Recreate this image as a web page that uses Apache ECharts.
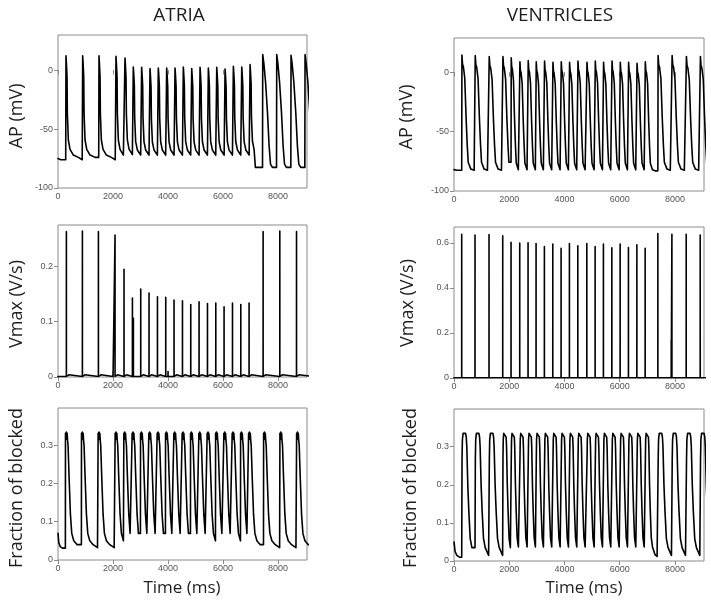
<!DOCTYPE html>
<html><head><meta charset="utf-8"><title>Atria / Ventricles</title>
<script src="https://cdn.jsdelivr.net/npm/echarts@6.0.0/dist/echarts.min.js"></script>
<style>html,body{margin:0;padding:0;background:#fff;}#chart{width:711px;height:602px;}</style>
</head><body><div id="chart"></div>
<script>
// ================= DATA =================
const xTickLabels = [0, 2000, 4000, 6000, 8000];
const apTicks = [-100, -50, 0];
const atriaVmaxTicks = [0, 0.1, 0.2];
const ventVmaxTicks = [0, 0.2, 0.4, 0.6];
const fracTicks = [0, 0.1, 0.2, 0.3];

// ---------- ATRIA : action potential (mV) ----------
const atriaApStart = [[0, -75], [100, -76]];
const atriaApBeats = [280, 887, 1480, 2098, 2425, 2727, 3030, 3334, 3636, 3940, 4244, 4545, 4850, 5153, 5455, 5760, 6062, 6364, 6669, 6971, 7433, 7942, 8462, 8971];
const atriaApPeaks = [12.4, 12.4, 12.4, 11.9, 10.5, 2.8, 2.5, 1.4, 2.0, 2.0, 2.0, 2.8, 1.4, 2.5, 2.0, 2.5, 1.1, 3.4, 2.8, 4.8, 13.3, 13.3, 12.7, 13.3];
const atriaApRests = [-76, -76, -76, -76, -75.5, -75.5, -75.5, -75.5, -75.5, -75.5, -75.5, -75.5, -75.5, -75.5, -75.5, -75.5, -75.5, -75.5, -75.5, -75.5, -82.5, -82.5, -82.5, -82.5];
const atriaApKind = ['spike', 'spike', 'spike', 'spike', 'spike', 'spike', 'spike', 'spike', 'spike', 'spike', 'spike', 'spike', 'spike', 'spike', 'spike', 'spike', 'spike', 'spike', 'spike', 'spike', 'broad', 'broad', 'broad', 'broad'];
const atriaApSteps = [[7170, -82.5]];
// waveform templates: [ms after upstroke, fraction of rest->peak]
const atriaSpikeShape = [[0, 0], [10, 1], [25, 0.93], [48, 0.8], [60, 0.45], [96, 0.19], [157, 0.1], [278, 0.045], [460, 0.023], [600, 0]];
const atriaBroadShape = [[0, 0], [8, 1], [50, 0.92], [110, 0.76], [180, 0.49], [240, 0.19], [290, 0.03], [360, 0]];

// ---------- ATRIA : Vmax (V/s) ----------
const atriaVmaxBeats = [305, 887, 1469, 2073, 2400, 2705, 3007, 3309, 3615, 3916, 4218, 4524, 4825, 5127, 5433, 5735, 6036, 6342, 6644, 6945, 7455, 8062, 8669];
const atriaVmax = [0.263, 0.264, 0.263, 0.257, 0.195, 0.143, 0.159, 0.152, 0.145, 0.144, 0.139, 0.138, 0.131, 0.136, 0.133, 0.134, 0.127, 0.134, 0.131, 0.134, 0.263, 0.264, 0.263];
const atriaVmaxExtra = [[2000, 0.01], [2740, 0.106], [4000, 0.01]];
const atriaVmaxBump = [90, 0.004];

// ---------- ATRIA : fraction of blocked ----------
const atriaFracStart = [[0, 0.07], [30, 0.045], [80, 0.035], [160, 0.031]];
const atriaFracBeats = [268, 850, 1455, 2073, 2389, 2691, 2996, 3298, 3600, 3905, 4207, 4509, 4814, 5116, 5418, 5724, 6025, 6327, 6633, 6924, 7469, 8062, 8669];
const atriaFracPeak = [0.334, 0.334, 0.334, 0.334, 0.334, 0.334, 0.334, 0.334, 0.334, 0.334, 0.334, 0.334, 0.334, 0.334, 0.334, 0.334, 0.334, 0.334, 0.334, 0.334, 0.334, 0.334, 0.334];
const atriaFracBase = [0.03, 0.03, 0.03, 0.03, 0.03, 0.03, 0.03, 0.03, 0.03, 0.03, 0.03, 0.03, 0.03, 0.03, 0.03, 0.03, 0.03, 0.03, 0.03, 0.03, 0.03, 0.03, 0.03];
const atriaFracShape = [[0, 0], [4, 0.99], [20, 0.95], [35, 1.0], [50, 0.94], [65, 0.99], [80, 0.93], [98, 0.885], [134, 0.62], [183, 0.295], [232, 0.13], [305, 0.066], [427, 0.033], [586, 0.007], [700, 0]];

// ---------- VENTRICLES : action potential (mV) ----------
const ventApStart = [[0, -82], [100, -82.5]];
const ventBeats = [279, 761, 1268, 1764, 2065, 2380, 2681, 2971, 3272, 3576, 3877, 4178, 4482, 4808, 5109, 5409, 5714, 6014, 6315, 6620, 6920, 7380, 7888, 8406, 8913];
const ventApPeaks = [14.7, 14.1, 13.3, 13.3, 12.4, 9.0, 9.9, 9.0, 9.6, 8.5, 9.0, 8.5, 9.6, 8.5, 9.6, 8.5, 9.6, 8.5, 8.5, 7.6, 9.0, 14.1, 14.1, 13.3, 13.3];
const ventApRests = [-82.5, -82.5, -82.5, -82.5, -83, -83, -83, -83, -83, -83, -83, -83, -83, -83, -83, -83, -83, -83, -83, -83, -83, -82.5, -82.5, -82.5, -82.5];
const ventApScale = [1, 1, 1, 0.95, 0.8, 0.8, 0.8, 0.8, 0.8, 0.8, 0.8, 0.8, 0.8, 0.8, 0.8, 0.8, 0.8, 0.8, 0.8, 0.8, 0.8, 1, 1, 1, 1];
const ventApShape = [[0, 0], [8, 1], [30, 0.92], [60, 0.9], [110, 0.8], [160, 0.45], [200, 0.22], [235, 0.07], [330, 0.01], [450, 0]];

// ---------- VENTRICLES : Vmax (V/s) ----------
const ventVmax = [0.638, 0.634, 0.636, 0.631, 0.602, 0.599, 0.600, 0.597, 0.583, 0.594, 0.575, 0.597, 0.587, 0.597, 0.583, 0.594, 0.578, 0.594, 0.579, 0.591, 0.575, 0.641, 0.638, 0.638, 0.634];
const ventVmaxExtra = [[7864, 0.168]];
const ventVmaxBump = [150, 0.009];

// ---------- VENTRICLES : fraction of blocked ----------
const ventFracStart = [[0, 0.05], [40, 0.025], [100, 0.015], [200, 0.01]];
const ventFracPeak = [0.335, 0.335, 0.335, 0.335, 0.335, 0.335, 0.335, 0.335, 0.335, 0.335, 0.335, 0.335, 0.335, 0.335, 0.335, 0.335, 0.335, 0.335, 0.335, 0.335, 0.335, 0.335, 0.335, 0.335, 0.335];
const ventFracBase = [0.01, 0.01, 0.01, 0.01, 0.012, 0.012, 0.012, 0.012, 0.012, 0.012, 0.012, 0.012, 0.012, 0.012, 0.012, 0.012, 0.012, 0.012, 0.012, 0.012, 0.012, 0.01, 0.01, 0.01, 0.01];
const ventFracScale = [1, 1, 1, 0.75, 0.72, 0.72, 0.72, 0.72, 0.72, 0.72, 0.72, 0.72, 0.72, 0.72, 0.72, 0.72, 0.72, 0.72, 0.72, 0.72, 0.72, 1, 1, 1, 1];
const ventFracShape = [[0, 0], [12, 0.8], [25, 0.95], [50, 1.0], [140, 1.0], [165, 0.97], [185, 0.89], [221, 0.58], [258, 0.37], [308, 0.15], [369, 0.077], [492, 0.015], [600, 0]];

// ================= BUILDERS =================
const END = 9050;
function buildWave(start, beats, peaks, rests, shapes, scales, steps) {
  const ev = beats.map((t, i) => ({ t, i })).concat((steps || []).map(s => ({ t: s[0], level: s[1] })));
  ev.sort((a, b) => a.t - b.t);
  const pts = start.map(p => p.slice());
  let last = start[start.length - 1][1];
  for (let k = 0; k < ev.length; k++) {
    const e = ev[k];
    const tNext = k + 1 < ev.length ? ev[k + 1].t : END + 200;
    pts.push([e.t, last]);
    if (e.level !== undefined) {
      last = e.level;
      pts.push([e.t + 4, last]);
      continue;
    }
    const sh = shapes[e.i], sc = scales ? scales[e.i] : 1, p = peaks[e.i], r = rests[e.i];
    for (const [dt, f] of sh) {
      if (dt === 0) continue;
      const t = e.t + dt * sc;
      if (t >= tNext) break;
      last = r + (p - r) * f;
      pts.push([t, last]);
    }
  }
  pts.push([END + 200, last]);
  return pts;
}
function buildSpikes(beats, heights, bump, extras) {
  const base = 0.001;
  const ev = [];
  beats.forEach((t, i) => {
    ev.push({ t, h: heights[i], w: 1 });
    ev.push({ t: t + bump[0], h: bump[1], w: 40 });
  });
  extras.forEach(e => ev.push({ t: e[0], h: e[1], w: 1 }));
  ev.sort((a, b) => a.t - b.t);
  const pts = [[0, base]];
  ev.forEach(e => { pts.push([e.t - e.w, base], [e.t, e.h], [e.t + e.w, base]); });
  pts.push([END + 200, base]);
  return pts;
}

const atriaApSeries = buildWave(atriaApStart, atriaApBeats, atriaApPeaks, atriaApRests,
  atriaApKind.map(k => k === 'spike' ? atriaSpikeShape : atriaBroadShape), null, atriaApSteps);
const atriaVmaxSeries = buildSpikes(atriaVmaxBeats, atriaVmax, atriaVmaxBump, atriaVmaxExtra);
const atriaFracSeries = buildWave(atriaFracStart, atriaFracBeats, atriaFracPeak, atriaFracBase,
  atriaFracBeats.map(() => atriaFracShape), null, []);
const ventApSeries = buildWave(ventApStart, ventBeats, ventApPeaks, ventApRests,
  ventBeats.map(() => ventApShape), ventApScale, []);
const ventVmaxSeries = buildSpikes(ventBeats, ventVmax, ventVmaxBump, ventVmaxExtra);
const ventFracSeries = buildWave(ventFracStart, ventBeats, ventFracPeak, ventFracBase,
  ventBeats.map(() => ventFracShape), ventFracScale, []);

// ================= LAYOUT =================
const panels = [
  { grid: { left: 58, top: 35, width: 249, height: 153 }, y: [-100, 30, 50], ticks: apTicks, data: atriaApSeries },
  { grid: { left: 454, top: 38, width: 250, height: 153 }, y: [-100, 29, 50], ticks: apTicks, data: ventApSeries },
  { grid: { left: 58, top: 225, width: 249, height: 152 }, y: [0, 0.275, 0.1], ticks: atriaVmaxTicks, data: atriaVmaxSeries },
  { grid: { left: 454, top: 227, width: 250, height: 151 }, y: [0, 0.67, 0.2], ticks: ventVmaxTicks, data: ventVmaxSeries },
  { grid: { left: 58, top: 408, width: 249, height: 152 }, y: [0, 0.397, 0.1], ticks: fracTicks, data: atriaFracSeries },
  { grid: { left: 454, top: 409, width: 250, height: 152 }, y: [0, 0.399, 0.1], ticks: fracTicks, data: ventFracSeries }
];

const FRAME = '#8a8a8a';
const LABEL = { color: '#555', fontSize: 9, fontFamily: 'Liberation Sans' };
const grids = [], xAxes = [], yAxes = [], series = [];
panels.forEach((p, i) => {
  grids.push(Object.assign({ show: true, borderColor: FRAME, borderWidth: 1, containLabel: false, outerBoundsMode: 'none' }, p.grid));
  const near = (v, arr) => arr.some(a => Math.abs(a - v) < 1e-6);
  const xBase = { gridIndex: i, type: 'value', min: 0, max: END, interval: 2000, axisLine: { show: false }, splitLine: { show: false } };
  xAxes.push(Object.assign({}, xBase, {
    position: 'bottom',
    axisTick: { show: true, inside: false, length: 4, lineStyle: { color: FRAME }, customValues: xTickLabels },
    axisLabel: Object.assign({ show: true, margin: 4, customValues: xTickLabels, formatter: v => near(v, xTickLabels) ? String(Math.round(v)) : '' }, LABEL)
  }));
  xAxes.push(Object.assign({}, xBase, {
    position: 'top',
    axisTick: { show: true, inside: true, length: 4, lineStyle: { color: FRAME }, customValues: xTickLabels },
    axisLabel: { show: false }
  }));
  const yBase = { gridIndex: i, type: 'value', min: p.y[0], max: p.y[1], interval: p.y[2], axisLine: { show: false }, splitLine: { show: false } };
  yAxes.push(Object.assign({}, yBase, {
    position: 'left',
    axisTick: { show: true, inside: false, length: 3, lineStyle: { color: FRAME }, customValues: p.ticks },
    axisLabel: Object.assign({ show: true, margin: 5, customValues: p.ticks, formatter: v => near(v, p.ticks) ? String(+(+v).toFixed(3)) : '' }, LABEL)
  }));
  yAxes.push(Object.assign({}, yBase, {
    position: 'right',
    axisTick: { show: true, inside: true, length: 4, lineStyle: { color: FRAME }, customValues: p.ticks },
    axisLabel: { show: false }
  }));
  series.push({
    type: 'line', xAxisIndex: 2 * i, yAxisIndex: 2 * i, data: p.data,
    showSymbol: false, symbol: 'none', clip: true, silent: true,
    lineStyle: { color: '#000', width: 1.6, join: 'round', cap: 'round' }, animation: false
  });
});

const TXT = '#1e1e1e';
const FONT = 'Open Sans';
function vtext(x, y, t) {
  return { type: 'text', x, y, rotation: Math.PI / 2, style: { text: t, fill: TXT, font: '18px "' + FONT + '"', textAlign: 'center', textVerticalAlign: 'middle', verticalAlign: 'middle' } };
}
function htext(x, y, t, size) {
  return { type: 'text', x, y, style: { text: t, fill: TXT, font: size + 'px "' + FONT + '"', textAlign: 'center', textVerticalAlign: 'middle', verticalAlign: 'middle' } };
}
const graphics = [
  htext(179, 16, 'ATRIA', 19),
  htext(560, 16, 'VENTRICLES', 19),
  vtext(17, 116, 'AP (mV)'),
  vtext(17, 304, 'Vmax (V/s)'),
  vtext(17, 488, 'Fraction of blocked'),
  vtext(407, 117, 'AP (mV)'),
  vtext(408, 303, 'Vmax (V/s)'),
  vtext(411, 488, 'Fraction of blocked'),
  htext(182, 588, 'Time (ms)', 17),
  htext(584, 588, 'Time (ms)', 17)
];

const chart = echarts.init(document.getElementById('chart'), null, { renderer: 'canvas' });
chart.setOption({
  backgroundColor: '#fff',
  animation: false,
  grid: grids,
  xAxis: xAxes,
  yAxis: yAxes,
  series: series,
  graphic: graphics
});
</script></body></html>
